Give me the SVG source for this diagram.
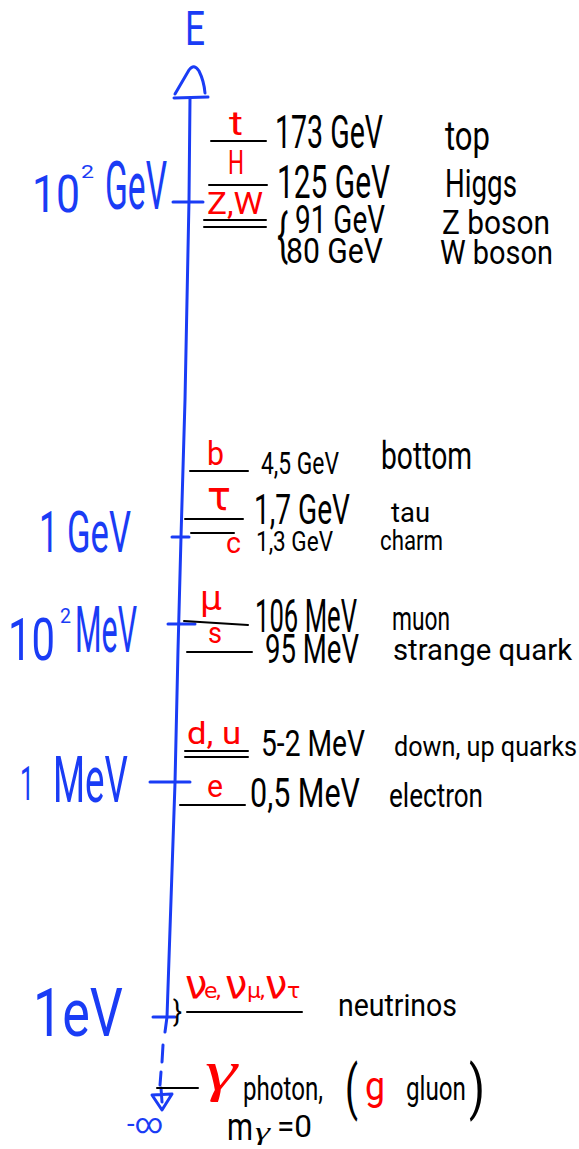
<svg xmlns="http://www.w3.org/2000/svg" width="579" height="1149" viewBox="0 0 579 1149">
<style>
text { font-family: Roboto, "Open Sans", "Liberation Sans", sans-serif; font-weight: 400; }
.gr { font-family: "DejaVu Sans", "Liberation Sans", sans-serif; }
.gm { font-family: "Liberation Serif", "DejaVu Serif", serif; font-style: italic; }
.k { fill: #000; }
.r { fill: #ff0000; }
.u { fill: #1a3cf5; }
.ln { stroke: #000; stroke-width: 2; stroke-linecap: round; fill: none; }
.ax { stroke: #1a3cf5; stroke-width: 3; stroke-linecap: round; stroke-linejoin: round; fill: none; }
</style>
<rect width="579" height="1149" fill="#fff"/>

<g id="connectors">
  <path class="ax" d="M190,98 L189,200 L185,400 L181,537 L178,650 L175,783 L167,1017 L165,1032"/>
  <path class="ax" d="M163,1045 L162,1062 M161,1072 L160,1085"/>
  <path class="ax" d="M175,94 L189,70 Q194,63 199,71 Q204,81 205,93 M174,98 L208,97"/>
  <path class="ax" d="M161,1088 L162,1102 M152,1095 L172,1094 L162,1110 Z"/>
</g>

<g id="axis-labels">
  <text class="u" x="185" y="45" font-size="49" textLength="20" lengthAdjust="spacingAndGlyphs">E</text>
  <g id="tick-100GeV">
    <path class="ax" d="M173,202 L203,202"/>
    <text class="u" x="32" y="212" font-size="52" textLength="48" lengthAdjust="spacingAndGlyphs">10</text>
    <text class="u" x="81" y="178" font-size="18" textLength="13" lengthAdjust="spacingAndGlyphs">2</text>
    <text class="u" x="105" y="209" font-size="66" textLength="62" lengthAdjust="spacingAndGlyphs">GeV</text>
  </g>
  <g id="tick-1GeV">
    <path class="ax" d="M172,537 L189,537"/>
    <text class="u" x="39" y="552" font-size="58" textLength="92" lengthAdjust="spacingAndGlyphs">1 GeV</text>
  </g>
  <g id="tick-100MeV">
    <path class="ax" d="M168,624 L195,624"/>
    <text class="u" x="8" y="660" font-size="60" textLength="47" lengthAdjust="spacingAndGlyphs">10</text>
    <text class="u" x="60" y="623" font-size="20" textLength="11" lengthAdjust="spacingAndGlyphs">2</text>
    <text class="u" x="75" y="652" font-size="64" textLength="62" lengthAdjust="spacingAndGlyphs">MeV</text>
  </g>
  <g id="tick-1MeV">
    <path class="ax" d="M150,782 L190,782"/>
    <text class="u" x="20" y="800" font-size="48" textLength="14" lengthAdjust="spacingAndGlyphs">1</text>
    <text class="u" x="53" y="802" font-size="64" textLength="75" lengthAdjust="spacingAndGlyphs">MeV</text>
  </g>
  <g id="tick-1eV">
    <path class="ax" d="M153,1017 L175,1017"/>
    <text class="u" x="33" y="1036" font-size="66" textLength="90" lengthAdjust="spacingAndGlyphs">1eV</text>
  </g>
  <text class="u" x="127" y="1133" font-size="28" textLength="36" lengthAdjust="spacingAndGlyphs">-∞</text>
</g>

<g id="top">
  <path class="ln" d="M211,141 L266,141"/>
  <text class="r" x="229" y="135" font-size="34" textLength="14" lengthAdjust="spacingAndGlyphs">t</text>
  <text class="k" x="275" y="148" font-size="46" textLength="108" lengthAdjust="spacingAndGlyphs">173 GeV</text>
  <text class="k" x="445" y="150" font-size="40" textLength="45" lengthAdjust="spacingAndGlyphs">top</text>
</g>
<g id="higgs">
  <path class="ln" d="M209,185 L267,185"/>
  <text class="r" x="228" y="174" font-size="34" textLength="16" lengthAdjust="spacingAndGlyphs">H</text>
  <text class="k" x="277" y="198" font-size="46" textLength="113" lengthAdjust="spacingAndGlyphs">125 GeV</text>
  <text class="k" x="445" y="197" font-size="38" textLength="72" lengthAdjust="spacingAndGlyphs">Higgs</text>
</g>
<g id="zw-bosons">
  <path class="ln" d="M204,220 L266,220 M204,227 L266,227"/>
  <text class="r" x="207" y="214" font-size="32" textLength="56" lengthAdjust="spacingAndGlyphs">Z,W</text>
  <text class="k" x="277" y="255" font-size="58" textLength="11" lengthAdjust="spacingAndGlyphs">{</text>
  <text class="k" x="295" y="233" font-size="38" textLength="90" lengthAdjust="spacingAndGlyphs">91 GeV</text>
  <text class="k" x="286" y="263" font-size="35" textLength="97" lengthAdjust="spacingAndGlyphs">80 GeV</text>
  <text class="k" x="442" y="234" font-size="34" textLength="108" lengthAdjust="spacingAndGlyphs">Z boson</text>
  <text class="k" x="440" y="264" font-size="33" textLength="113" lengthAdjust="spacingAndGlyphs">W boson</text>
</g>

<g id="bottom">
  <path class="ln" d="M190,471 L248,471"/>
  <text class="r" x="207" y="465" font-size="34" textLength="17" lengthAdjust="spacingAndGlyphs">b</text>
  <text class="k" x="261" y="474" font-size="32" textLength="78" lengthAdjust="spacingAndGlyphs">4,5 GeV</text>
  <text class="k" x="381" y="469" font-size="38" textLength="91" lengthAdjust="spacingAndGlyphs">bottom</text>
</g>
<g id="tau">
  <path class="ln" d="M185,519 L243,519"/>
  <text class="r gr" x="207" y="510" font-size="40" textLength="24" lengthAdjust="spacingAndGlyphs">τ</text>
  <text class="k" x="254" y="524" font-size="42" textLength="96" lengthAdjust="spacingAndGlyphs">1,7 GeV</text>
  <text class="k" x="391" y="522" font-size="28" textLength="39" lengthAdjust="spacingAndGlyphs">tau</text>
</g>
<g id="charm">
  <path class="ln" d="M191,533 L234,533"/>
  <text class="r" x="226" y="553" font-size="30" textLength="15" lengthAdjust="spacingAndGlyphs">c</text>
  <text class="k" x="256" y="551" font-size="28" textLength="77" lengthAdjust="spacingAndGlyphs">1,3 GeV</text>
  <text class="k" x="380" y="550" font-size="28" textLength="63" lengthAdjust="spacingAndGlyphs">charm</text>
</g>

<g id="muon">
  <path class="ln" d="M184,621 L248,625"/>
  <text class="r gr" x="200" y="610" font-size="34" textLength="22" lengthAdjust="spacingAndGlyphs">μ</text>
  <text class="k" x="255" y="632" font-size="46" textLength="102" lengthAdjust="spacingAndGlyphs">106 MeV</text>
  <text class="k" x="392" y="630" font-size="34" textLength="58" lengthAdjust="spacingAndGlyphs">muon</text>
</g>
<g id="strange">
  <path class="ln" d="M187,652 L252,652"/>
  <text class="r" x="208" y="643" font-size="30" textLength="14" lengthAdjust="spacingAndGlyphs">s</text>
  <text class="k" x="265" y="663" font-size="40" textLength="94" lengthAdjust="spacingAndGlyphs">95 MeV</text>
  <text class="k" x="393" y="660" font-size="29" textLength="179" lengthAdjust="spacingAndGlyphs">strange quark</text>
</g>

<g id="down-up">
  <path class="ln" d="M185,751 L248,751 M185,757 L248,757"/>
  <text class="r" x="187" y="744" font-size="32" textLength="54" lengthAdjust="spacingAndGlyphs">d, u</text>
  <text class="k" x="261" y="756" font-size="36" textLength="104" lengthAdjust="spacingAndGlyphs">5-2 MeV</text>
  <text class="k" x="394" y="756" font-size="27" textLength="183" lengthAdjust="spacingAndGlyphs">down, up quarks</text>
</g>
<g id="electron">
  <path class="ln" d="M180,805 L245,805"/>
  <text class="r" x="207" y="797" font-size="32" textLength="16" lengthAdjust="spacingAndGlyphs">e</text>
  <text class="k" x="250" y="807" font-size="40" textLength="110" lengthAdjust="spacingAndGlyphs">0,5 MeV</text>
  <text class="k" x="389" y="807" font-size="34" textLength="94" lengthAdjust="spacingAndGlyphs">electron</text>
</g>

<g id="neutrinos">
  <path class="ln" d="M187,1012 L302,1012"/>
  <text class="k" x="173" y="1022" font-size="30" textLength="9" lengthAdjust="spacingAndGlyphs">}</text>
  <text class="r gr" y="998" font-size="40"><tspan x="185">ν</tspan><tspan x="204" font-size="22">e</tspan><tspan x="215" font-size="22">,</tspan><tspan x="225">ν</tspan><tspan x="247" font-size="22">μ</tspan><tspan x="259" font-size="22">,</tspan><tspan x="265">ν</tspan><tspan x="287" font-size="22">τ</tspan></text>
  <text class="k" x="338" y="1016" font-size="32" textLength="119" lengthAdjust="spacingAndGlyphs">neutrinos</text>
</g>

<g id="photon">
  <path class="ln" d="M157,1088 L198,1088"/>
  <text class="r gm" x="205" y="1090" font-size="56" textLength="32" lengthAdjust="spacingAndGlyphs">γ</text>
  <text class="k" x="243" y="1100" font-size="34" textLength="80" lengthAdjust="spacingAndGlyphs">photon,</text>
  <text class="k" x="227" y="1140" font-size="38" textLength="26" lengthAdjust="spacingAndGlyphs">m</text>
  <text class="k gm" x="255" y="1140" font-size="26" textLength="15" lengthAdjust="spacingAndGlyphs">γ</text>
  <text class="k" x="277" y="1137" font-size="32" textLength="35" lengthAdjust="spacingAndGlyphs">=0</text>
</g>
<g id="gluon">
  <text class="k" x="345" y="1108" font-size="60" textLength="13" lengthAdjust="spacingAndGlyphs">(</text>
  <text class="r" x="365" y="1100" font-size="40" textLength="20" lengthAdjust="spacingAndGlyphs">g</text>
  <text class="k" x="406" y="1100" font-size="34" textLength="60" lengthAdjust="spacingAndGlyphs">gluon</text>
  <text class="k" x="469" y="1108" font-size="60" textLength="16" lengthAdjust="spacingAndGlyphs">)</text>
</g>
</svg>
